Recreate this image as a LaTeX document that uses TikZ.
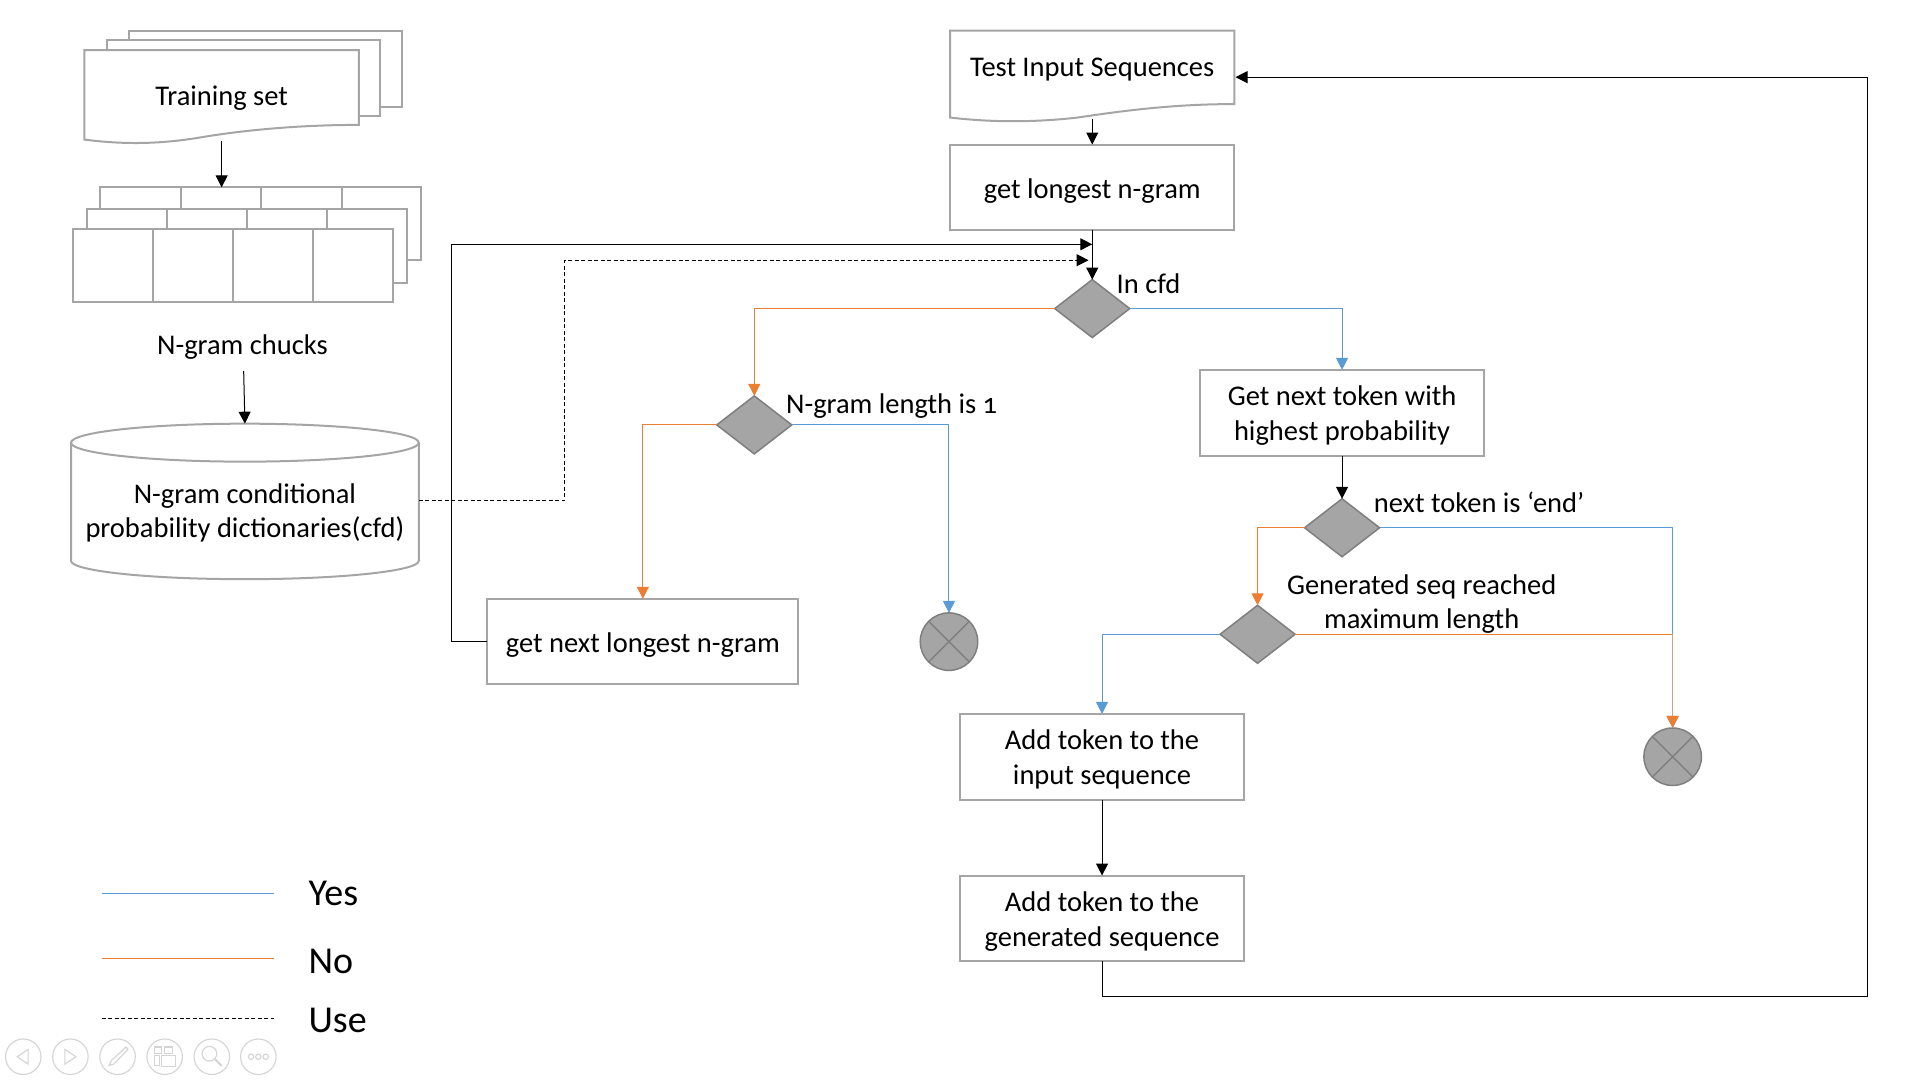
\documentclass[tikz,border=0pt]{standalone}
\usepackage{fontspec}
\setmainfont[Numbers=OldStyle]{Carlito}
\usetikzlibrary{arrows.meta,shapes.geometric,calc}
\definecolor{yescol}{HTML}{5B9BD5}
\definecolor{nocol}{HTML}{ED7D31}
\definecolor{edgegray}{HTML}{A5A5A5}
\definecolor{darkgray}{HTML}{7F7F7F}
\definecolor{toolgray}{HTML}{D4D4D4}
\definecolor{mergecol}{HTML}{CFA27E}
\tikzset{
  x=1.2245pt,y=-1.2245pt,
  every node/.style={inner sep=0pt,outer sep=0pt,font=\fontsize{28.5}{34.5}\selectfont,text=black,align=center},
  shapeline/.style={draw=edgegray,line width=2pt,fill=white,line join=miter},
  procbox/.style={shapeline,rectangle,minimum width=284pt,minimum height=85.7pt},
  decision/.style={diamond,draw=darkgray,fill=edgegray,line width=1.5pt,minimum width=75pt,minimum height=58pt},
  stopdot/.style={circle,draw=darkgray,fill=edgegray,line width=1.5pt,minimum size=57.5pt},
  crossline/.style={draw=darkgray,line width=1.5pt},
  tip/.style={-{Triangle[length=12pt,width=12pt]}},
  flow/.style={draw=black,line width=1pt,tip},
  yesflow/.style={draw=yescol,line width=1pt,-{Triangle[length=12pt,width=12pt,fill=yescol]}},
  noflow/.style={draw=nocol,line width=1pt,-{Triangle[length=12pt,width=12pt,fill=nocol]}},
  useflow/.style={draw=black,line width=1pt,dash pattern=on 4pt off 2.5pt,tip},
  legendtext/.style={font=\fontsize{38}{42}\selectfont,anchor=west},
  tool/.style={draw=toolgray,line width=1.1pt},
}
\begin{document}
\begin{tikzpicture}
\useasboundingbox (0,0) rectangle (1568,882);
\fill[white] (0,0) rectangle (1568,882);

% Training set stack
\draw[shapeline] (105,25) -- (328,25) -- (328,87) -- (300,87) -- (300,60) -- (105,60) -- cycle;
\draw[shapeline] (87,33) -- (310,33) -- (310,95) -- (280,95) -- (280,60) -- (87,60) -- cycle;
\draw[shapeline] (69,41) -- (293,41) -- (293,102)
  .. controls (240,102) and (195,107) .. (165,112)
  .. controls (130,118) and (100,118) .. (69,114) -- cycle;
\node (train) at (181,80.5) {Training set};
\coordinate (trainout) at (181,115);

% N-gram chunks
\draw[shapeline] (82,153) rectangle (344,212);
\draw[shapeline] (148,153) -- (148,175) (213,153) -- (213,175) (279,153) -- (279,175);
\draw[shapeline] (71,171) rectangle (332,231);
\draw[shapeline] (136,171) -- (136,190) (202,171) -- (202,190) (267,171) -- (267,190);
\draw[shapeline] (60,187) rectangle (321,247);
\draw[shapeline] (125,187) -- (125,247) (190,187) -- (190,247) (256,187) -- (256,247);
\coordinate (chunkin) at (181,153);
\node (chucks) at (198,283.5) {N-gram chucks};
\coordinate (chucksout) at (199,303);
\draw[flow] (trainout) -- (chunkin);

% Dictionary cylinder
\draw[shapeline] (58,361.5) -- (58,458) arc[start angle=180,end angle=0,x radius=142,y radius=15] -- (342,361.5);
\draw[shapeline] (200,361.5) ellipse[x radius=142,y radius=15.5];
\node (cfd) at (200,419) {N-gram conditional\\probability dictionaries(cfd)};
\coordinate (cfdin) at (200,346);
\coordinate (cfdout) at (342,409);
\draw[flow] (chucksout) -- (cfdin);

% Test input
\draw[shapeline] (776,25) -- (1008,25) -- (1008,85)
  .. controls (960,85) and (920,90) .. (880,96)
  .. controls (845,100) and (810,100) .. (776,96) -- cycle;
\node (test) at (892,57) {Test Input Sequences};
\coordinate (testout) at (892,97);
\coordinate (testin) at (1009,63);
\node[procbox] (longest) at (892,153) {};
\node (longestl) at (892,156) {get longest n-gram};

% Decisions
\node[decision] (incfd) at (892,252) {};
\node[anchor=west] (incfdl) at (912,231.5) {In cfd};
\node[decision] (ngone) at (616,347) {};
\node[anchor=west] (ngonel) at (642,331.5) {N-gram length is 1};
\node[decision] (isend) at (1096,431) {};
\node[anchor=west] (isendl) at (1122,410) {next token is ‘end’};
\node[decision] (maxlen) at (1027,518) {};
\node (maxlenl) at (1161,493.5) {Generated seq reached\\maximum length};

% Boxes
\node[procbox,minimum width=311pt] (nextgram) at (525,524) {};
\node (nextgraml) at (525,527) {get next longest n-gram};
\node[procbox] (gettoken) at (1096,337) {};
\node (gettokenl) at (1096,339.5) {Get next token with\\highest probability};
\node[procbox] (addinput) at (900,618) {};
\node (addinputl) at (900,620) {Add token to the\\input sequence};
\node[procbox] (addgen) at (900,750) {};
\node (addgenl) at (900,752.5) {Add token to the\\generated sequence};

% Stops
\node[stopdot] (stopa) at (775,524) {};
\draw[crossline] (stopa.45) -- (stopa.225) (stopa.135) -- (stopa.315);
\node[stopdot] (stopb) at (1366,618) {};
\draw[crossline] (stopb.45) -- (stopb.225) (stopb.135) -- (stopb.315);

% Black flows
\draw[flow] (testout) -- (longest.north);
\draw[flow] (longest.south) -- (incfd.north);
\draw[flow] (gettoken.south) -- (isend.north);
\draw[flow] (addinput.south) -- (addgen.north);

% Loop back to In cfd
\coordinate (loopcorner) at (369,199.5);
\coordinate (loopin) at (892,199.5);
\draw[flow] (nextgram.west) -| (loopcorner) -- (loopin);

% Use
\coordinate (usecorner) at (461,212.5);
\coordinate (usein) at (889,212.5);
\draw[useflow] (cfdout) -| (usecorner) -- (usein);

% Return
\coordinate (retlow) at (1525,814);
\coordinate (rethigh) at (1525,63);
\draw[flow] (addgen.south) |- (retlow) -- (rethigh) -- (testin);

% Yes / No
\draw[noflow] (incfd.west) -| (ngone.north);
\draw[yesflow] (incfd.east) -| (gettoken.north);
\draw[noflow] (ngone.west) -| (nextgram.north);
\draw[yesflow] (ngone.east) -| (stopa.north);
\draw[noflow] (isend.west) -| (maxlen.north);
\draw[yesflow] (isend.east) -| (stopb.north);
\draw[noflow] (maxlen.east) -| (stopb.north);
\draw[yesflow] (maxlen.west) -| (addinput.north);
\coordinate (merge) at (stopb.north |- maxlen.east);
\draw[mergecol,line width=1pt,shorten >=12pt] (merge) -- (stopb.north);

% Legend
\coordinate (la) at (83,730); \coordinate (lb) at (224,730);
\coordinate (lc) at (83,783); \coordinate (ld) at (224,783);
\coordinate (le) at (83,832); \coordinate (lf) at (224,832);
\draw[yescol,line width=1pt] (la) -- (lb);
\draw[nocol,line width=1pt] (lc) -- (ld);
\draw[black,line width=1pt,dash pattern=on 4pt off 2.5pt] (le) -- (lf);
\node[legendtext] (lyes) at (252,730) {Yes};
\node[legendtext] (lno) at (252,785) {No};
\node[legendtext] (luse) at (252,833) {Use};

% Slide show toolbar
\foreach \cx in {19,57.5,96,134.5,173,211}
  \draw[tool] (\cx,863) circle[radius=14.5];
\draw[tool] (23,857) -- (14,863) -- (23,869) -- cycle;
\draw[tool] (53,857) -- (62,863) -- (53,869) -- cycle;
\draw[tool] (89,870) -- (91,866) -- (103,855) -- (104.5,857) -- (93,869) -- cycle;
\draw[tool] (126,855) rectangle (132,860) (134,855) rectangle (141,860) (126,862) rectangle (130,870) (132,862) rectangle (143,871);
\draw[tool] (171,860.5) circle[radius=6];
\draw[tool,line width=2pt] (175.5,865) -- (181,870.5);
\foreach \dx in {205,211,217}
  \draw[tool] (\dx,863) circle[radius=2.2];
\end{tikzpicture}
\end{document}
